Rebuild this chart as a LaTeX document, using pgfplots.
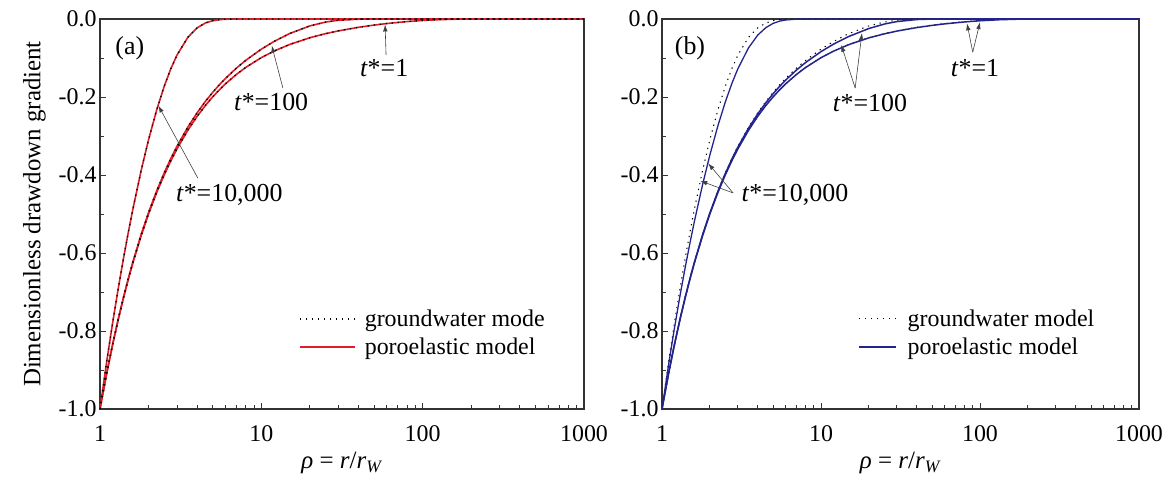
\documentclass[border=0pt]{standalone}
\usepackage{pgfplots}
\pgfplotsset{compat=1.18}
\usepackage{pgfplotstable}
\usepackage{fontspec}
\setmainfont{Liberation Serif}
\usetikzlibrary{arrows.meta}
\definecolor{pred}{RGB}{220,30,40}
\definecolor{pblue}{RGB}{35,35,140}

\pgfplotstableread{
rho  G10000  G100    G1      P10000  P100    P1
1    -1      -1      -1      -1      -1      -1
1.1  -0.879  -0.9086 -0.9091 -0.8865 -0.9088 -0.9091
1.2  -0.777  -0.8324 -0.8333 -0.7905 -0.8326 -0.8333
1.3  -0.689  -0.7678 -0.7692 -0.708  -0.7682 -0.7692
1.4  -0.6126 -0.7125 -0.7142 -0.6366 -0.7131 -0.7143
1.5  -0.5458 -0.6645 -0.6666 -0.5738 -0.6652 -0.6666
1.6  -0.487  -0.6225 -0.6249 -0.5183 -0.6232 -0.6249
1.8  -0.3882 -0.5523 -0.5555 -0.4246 -0.5534 -0.5555
2    -0.3094 -0.4961 -0.4998 -0.3488 -0.4973 -0.4999
2.25 -0.232  -0.4398 -0.4442 -0.273  -0.4412 -0.4442
2.5  -0.1727 -0.3946 -0.3998 -0.213  -0.3962 -0.3998
2.75 -0.1272 -0.3575 -0.3634 -0.1655 -0.3594 -0.3635
3    -0.0927 -0.3265 -0.3331 -0.1276 -0.3286 -0.3331
3.5  -0.0472 -0.2775 -0.2854 -0.0741 -0.28   -0.2854
4    -0.0227 -0.2405 -0.2496 -0.0413 -0.2433 -0.2496
4.5  -0.0102 -0.2113 -0.2218 -0.0221 -0.2147 -0.2218
5    -0.0043 -0.1879 -0.1995 -0.0112 -0.1915 -0.1996
5.5  -0.0017 -0.1685 -0.1813 -0.0054 -0.1725 -0.1814
6    -0.0006 -0.1522 -0.1661 -0.0025 -0.1565 -0.1662
7    -0.0001 -0.1261 -0.1422 -0.0005 -0.1311 -0.1423
8    0       -0.1061 -0.1242 -0.0001 -0.1116 -0.1244
10   0       -0.0773 -0.099  0       -0.0837 -0.0992
12   0       -0.0575 -0.0822 0       -0.0644 -0.0824
15   0       -0.0372 -0.0652 0       -0.0446 -0.0655
20   0       -0.0177 -0.048  0       -0.0244 -0.0484
25   0       -0.0079 -0.0376 0       -0.013  -0.0381
30   0       -0.0032 -0.0305 0       -0.0066 -0.031
40   0       -0.0004 -0.0213 0       -0.0014 -0.022
50   0       0       -0.0156 0       -0.0002 -0.0164
60   0       0       -0.0116 0       0       -0.0125
80   0       0       -0.0066 0       0       -0.0075
100  0       0       -0.0037 0       0       -0.0045
130  0       0       -0.0014 0       0       -0.002
170  0       0       -0.0003 0       0       -0.0006
220  0       0       0       0       0       -0.0001
300  0       0       0       0       0       0
1000 0       0       0       0       0       0
}\data

\tikzset{
  gw/.style={black, line width=1.3bp, dash pattern=on 1.3bp off 4.7bp},
  ann/.style={font=\fontsize{26}{30}\selectfont},
  arr/.style={-{Latex[length=7bp,width=4.5bp]}, line width=0.6bp, black!75},
}

\begin{document}
\begin{tikzpicture}
\path[use as bounding box] (-100bp,-69bp) rectangle (1066bp,409bp);

% ---------------- panel (a)
\begin{axis}[
    scale only axis, height=390bp, width=484bp,
    xmode=log, xmin=1, xmax=1000, ymin=-1, ymax=0,
    xtick={1,10,100,1000}, xticklabels={1,10,100,1000},
    minor xtick={2,3,4,5,6,7,8,9,20,30,40,50,60,70,80,90,200,300,400,500,600,700,800,900},
    ytick={-1,-0.8,-0.6,-0.4,-0.2,0},
    minor ytick={-0.9,-0.7,-0.5,-0.3,-0.1},
    yticklabel style={/pgf/number format/.cd, fixed, fixed zerofill, precision=1, assume math mode=true},
    xticklabel style={yshift=-13bp},
    tick align=inside, xtick pos=bottom, ytick pos=left,
    major tick length=6bp, minor tick length=4bp,
    tick style={black!80, line width=0.9bp},
    axis line style={black!80, line width=1.1bp},
    ticklabel style={font=\fontsize{24}{28}\selectfont},
    xlabel style={font=\fontsize{25}{30}\selectfont},
    ylabel style={font=\fontsize{25}{30}\selectfont},
    xlabel shift=4bp, ylabel shift=6bp,
    xlabel={\textit{ρ} = \textit{r}/\textit{r}\textsubscript{\textit{W}}},
    ylabel={Dimensionless drawdown gradient},
    legend style={draw=none, fill=none, font=\fontsize{24}{28}\selectfont, row sep=6bp, column sep=7bp,
                  at={(0.405,0.265)}, anchor=north west},
    legend cell align=left,
    legend image code/.code={\draw[#1] (0bp,0bp) -- (55bp,0bp);},
]
\addlegendimage{gw}
\addlegendentry{groundwater mode}
\addlegendimage{pred, line width=1.6bp}
\addlegendentry{poroelastic model}
\addplot[pred, line width=1.6bp, forget plot] table[x=rho, y=G10000] {\data};
\addplot[pred, line width=1.6bp, forget plot] table[x=rho, y=G100] {\data};
\addplot[pred, line width=1.6bp, forget plot] table[x=rho, y=G1] {\data};
\addplot[gw, forget plot] table[x=rho, y=G10000] {\data};
\addplot[gw, forget plot] table[x=rho, y=G100] {\data};
\addplot[gw, forget plot] table[x=rho, y=G1] {\data};

\node[ann] at (axis cs:1.53,-0.074) {(a)};
\node[ann] at (axis cs:6.33,-0.451) {\textit{t}*=10,000};
\draw[arr] (axis cs:4.04,-0.408) -- (axis cs:2.3,-0.222);
\node[ann] at (axis cs:11.5,-0.213) {\textit{t}*=100};
\draw[arr] (axis cs:13.6,-0.177) -- (axis cs:11.6,-0.068);
\node[ann] at (axis cs:57.7,-0.126) {\textit{t}*=1};
\draw[arr] (axis cs:59.3,-0.092) -- (axis cs:58.5,-0.014);
\end{axis}

% ---------------- panel (b)
\begin{axis}[
    at={(562bp,0bp)},
    scale only axis, height=390bp, width=477bp,
    xmode=log, xmin=1, xmax=1000, ymin=-1, ymax=0,
    xtick={1,10,100,1000}, xticklabels={1,10,100,1000},
    minor xtick={2,3,4,5,6,7,8,9,20,30,40,50,60,70,80,90,200,300,400,500,600,700,800,900},
    ytick={-1,-0.8,-0.6,-0.4,-0.2,0},
    minor ytick={-0.9,-0.7,-0.5,-0.3,-0.1},
    yticklabel style={/pgf/number format/.cd, fixed, fixed zerofill, precision=1, assume math mode=true},
    xticklabel style={yshift=-13bp},
    tick align=inside, xtick pos=bottom, ytick pos=left,
    major tick length=6bp, minor tick length=4bp,
    tick style={black!80, line width=0.9bp},
    axis line style={black!80, line width=1.1bp},
    ticklabel style={font=\fontsize{24}{28}\selectfont},
    xlabel style={font=\fontsize{25}{30}\selectfont},
    xlabel shift=4bp,
    xlabel={\textit{ρ} = \textit{r}/\textit{r}\textsubscript{\textit{W}}},
    legend style={draw=none, fill=none, font=\fontsize{24}{28}\selectfont, row sep=6bp, column sep=9bp,
                  at={(0.405,0.265)}, anchor=north west},
    legend cell align=left,
    legend image code/.code={\draw[#1] (0bp,0bp) -- (37bp,0bp);},
]
\addlegendimage{gw, line width=1bp}
\addlegendentry{groundwater model}
\addlegendimage{pblue, line width=1.3bp}
\addlegendentry{poroelastic model}
\addplot[gw, line width=1bp, forget plot] table[x=rho, y=G10000] {\data};
\addplot[gw, line width=1bp, forget plot] table[x=rho, y=G100] {\data};
\addplot[gw, line width=1bp, forget plot] table[x=rho, y=G1] {\data};
\addplot[pblue, line width=1.3bp, forget plot] table[x=rho, y=P10000] {\data};
\addplot[pblue, line width=1.5bp, forget plot] table[x=rho, y=P100] {\data};
\addplot[pblue, line width=1.5bp, forget plot] table[x=rho, y=P1] {\data};

\node[ann] at (axis cs:1.50,-0.074) {(b)};
\node[ann] at (axis cs:6.86,-0.451) {\textit{t}*=10,000};
\draw[arr] (axis cs:2.80,-0.446) -- (axis cs:1.95,-0.37);
\draw[arr] (axis cs:2.80,-0.446) -- (axis cs:1.74,-0.415);
\node[ann] at (axis cs:20.3,-0.215) {\textit{t}*=100};
\draw[arr] (axis cs:16.4,-0.177) -- (axis cs:13.4,-0.066);
\draw[arr] (axis cs:16.4,-0.177) -- (axis cs:18.1,-0.036);
\node[ann] at (axis cs:93,-0.126) {\textit{t}*=1};
\draw[arr] (axis cs:90,-0.085) -- (axis cs:82.8,-0.011);
\draw[arr] (axis cs:90,-0.085) -- (axis cs:100,-0.008);
\end{axis}
\end{tikzpicture}
\end{document}
